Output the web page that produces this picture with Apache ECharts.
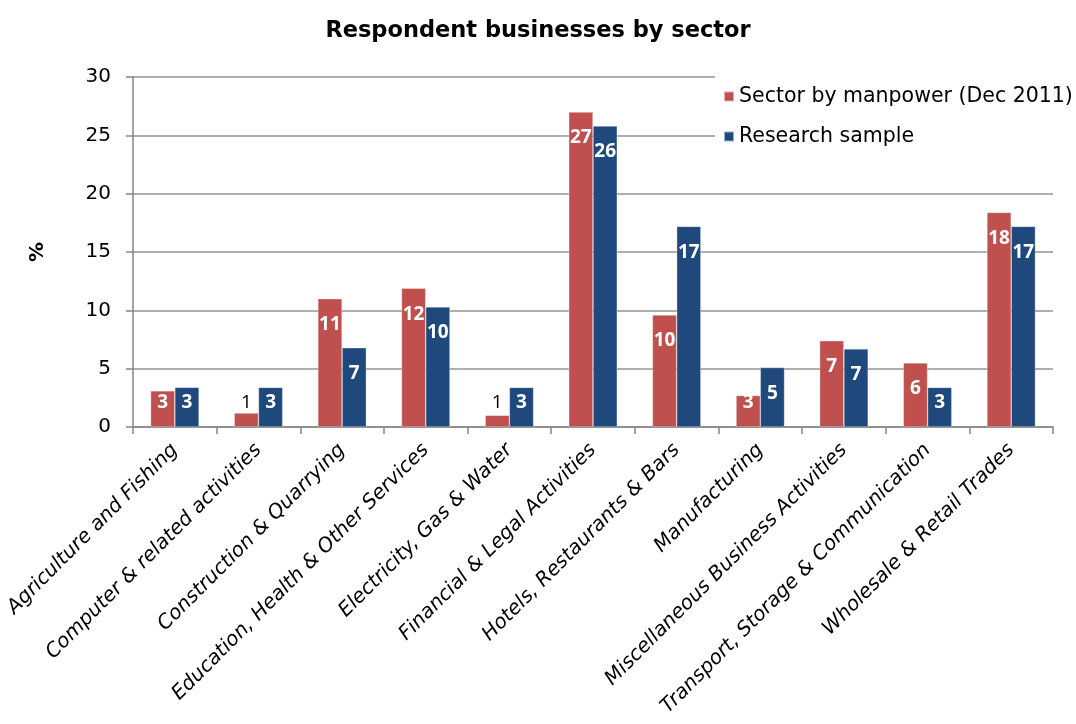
<!DOCTYPE html>
<html>
<head>
<meta charset="utf-8">
<script src="https://cdn.jsdelivr.net/npm/echarts@6/dist/echarts.min.js"></script>
<style>
  html, body { margin: 0; padding: 0; background: #fff; }
  #chart { width: 1076px; height: 724px; }
</style>
</head>
<body>
<div id="chart"></div>
<script>
// Share of businesses (%) per sector
const categories = [
  'Agriculture and Fishing',
  'Computer & related activities',
  'Construction & Quarrying',
  'Education, Health & Other Services',
  'Electricity, Gas & Water',
  'Financial & Legal Activities',
  'Hotels, Restaurants & Bars',
  'Manufacturing',
  'Miscellaneous Business Activities',
  'Transport, Storage & Communication',
  'Wholesale & Retail Trades'
];
const seriesNames = ['Sector by manpower (Dec 2011)', 'Research sample'];
const manpower = [3.1, 1.2, 11.0, 11.9, 1.0, 27.0, 9.6, 2.7, 7.4, 5.5, 18.4];
const sample   = [3.4, 3.4, 6.8, 10.3, 3.4, 25.8, 17.2, 5.1, 6.7, 3.4, 17.2];
const yTicks = [0, 5, 10, 15, 20, 25, 30];

const textFont = '"DejaVu Sans", sans-serif';
const colors = ['#C0504D', '#1F497D'];

// Bars too short to hold their value show it just above, in dark text
function toItems(values) {
  return values.map(v => ({
    value: v,
    label: { color: v < 2 ? '#000' : '#fff', fontWeight: v < 2 ? 'normal' : 'bold' }
  }));
}

function barSeries(name, values, color) {
  return {
    name: name,
    type: 'bar',
    data: toItems(values),
    barGap: '0%',
    barCategoryGap: '42%',
    itemStyle: { color: color, borderColor: 'rgba(255,255,255,0.55)', borderWidth: 0.6 },
    label: {
      show: true,
      position: 'inside',
      overflow: 'none',
      fontFamily: '"Open Sans", sans-serif',
      fontSize: 19,
      formatter: p => String(Math.round(p.value))
    },
    // value sits a fixed distance below the bar top, but never lower than near the baseline
    labelLayout: function (params) {
      const r = params.rect;
      const bottom = r.y + r.height;
      return {
        x: r.x + r.width / 2,
        y: Math.min(r.y + 26, bottom - 24),
        align: 'center',
        verticalAlign: 'middle'
      };
    }
  };
}

const chart = echarts.init(document.getElementById('chart'), null, { renderer: 'canvas' });
chart.setOption({
  backgroundColor: '#fff',
  animation: false,
  color: colors,
  title: {
    text: 'Respondent businesses by sector',
    left: 'center',
    top: 15,
    textStyle: { fontFamily: textFont, fontSize: 22.5, fontWeight: 'bold', color: '#000' }
  },
  legend: {
    orient: 'vertical',
    left: 715,
    top: 76,
    padding: [10, 30, 12, 8],
    backgroundColor: '#fff',
    itemWidth: 10,
    itemHeight: 10,
    itemGap: 19,
    icon: 'rect',
    textStyle: { fontFamily: textFont, fontSize: 20.5, color: '#000' },
    data: seriesNames
  },
  grid: { left: 133, right: 23, top: 77, bottom: 297 },
  xAxis: {
    type: 'category',
    data: categories,
    axisLine: { lineStyle: { color: '#868686', width: 1.5 } },
    axisTick: { show: true, length: 7, lineStyle: { color: '#868686', width: 1.5 } },
    axisLabel: {
      rotate: 45,
      interval: 0,
      margin: 20,
      fontFamily: textFont,
      fontStyle: 'italic',
      fontSize: 20,
      color: '#000'
    }
  },
  yAxis: {
    type: 'value',
    min: yTicks[0],
    max: yTicks[yTicks.length - 1],
    interval: 5,
    name: '%',
    nameLocation: 'middle',
    nameGap: 85,
    nameRotate: 90,
    nameTextStyle: { fontFamily: textFont, fontSize: 20, fontWeight: 'bold', color: '#000' },
    axisLine: { show: true, lineStyle: { color: '#868686', width: 1.5 } },
    axisTick: { show: true, length: 7, lineStyle: { color: '#868686', width: 1.5 } },
    splitLine: { lineStyle: { color: '#959595', width: 1.5 } },
    axisLabel: { fontFamily: textFont, fontSize: 20, color: '#000', margin: 22 }
  },
  series: [
    barSeries(seriesNames[0], manpower, colors[0]),
    barSeries(seriesNames[1], sample, colors[1])
  ]
});
</script>
</body>
</html>
